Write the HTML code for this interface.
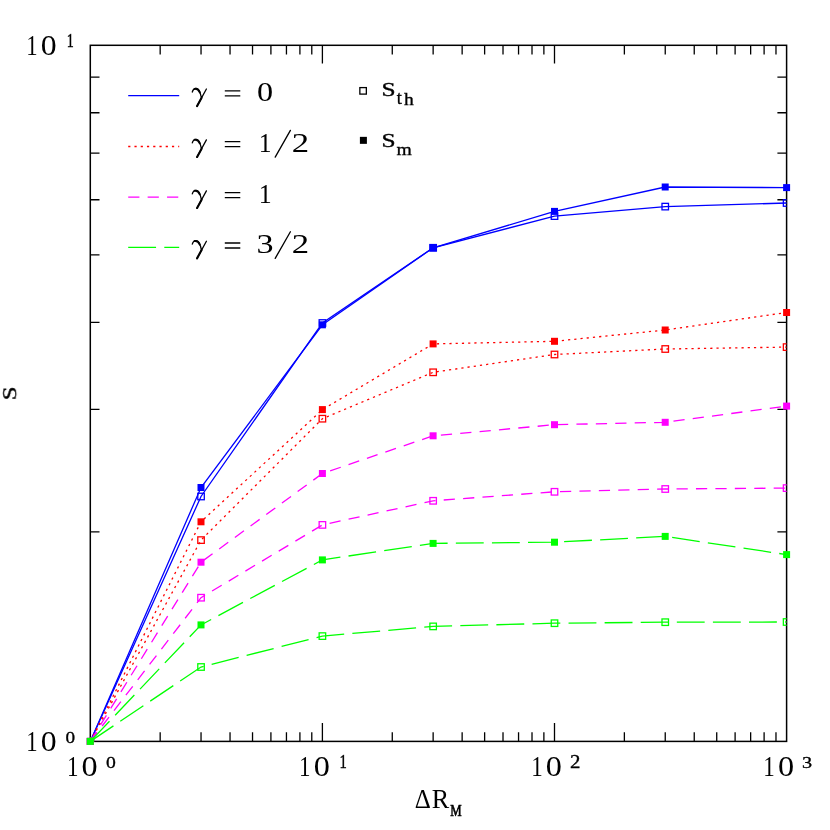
<!DOCTYPE html>
<html><head><meta charset="utf-8"><title>chart</title>
<style>html,body{margin:0;padding:0;background:#fff;}svg{display:block;}</style></head>
<body>
<svg width="830" height="830" viewBox="0 0 830 830">
<defs><filter id="ga" x="-5%" y="-5%" width="110%" height="110%"><feOffset dx="0" dy="0"/></filter></defs>
<defs><clipPath id="pc"><rect x="90.30" y="45.30" width="696.30" height="696.10"/></clipPath></defs>
<rect width="830" height="830" fill="#fff"/>
<g stroke="#000" fill="none">
<rect x="90.30" y="45.30" width="696.30" height="696.10" stroke-width="1.5"/>
<path d="M160.17 741.40v-9.20M160.17 45.30v9.20M201.04 741.40v-9.20M201.04 45.30v9.20M230.04 741.40v-9.20M230.04 45.30v9.20M252.53 741.40v-9.20M252.53 45.30v9.20M270.91 741.40v-9.20M270.91 45.30v9.20M286.45 741.40v-9.20M286.45 45.30v9.20M299.91 741.40v-9.20M299.91 45.30v9.20M311.78 741.40v-9.20M311.78 45.30v9.20M322.40 741.40v-18.30M322.40 45.30v18.30M392.27 741.40v-9.20M392.27 45.30v9.20M433.14 741.40v-9.20M433.14 45.30v9.20M462.14 741.40v-9.20M462.14 45.30v9.20M484.63 741.40v-9.20M484.63 45.30v9.20M503.01 741.40v-9.20M503.01 45.30v9.20M518.55 741.40v-9.20M518.55 45.30v9.20M532.01 741.40v-9.20M532.01 45.30v9.20M543.88 741.40v-9.20M543.88 45.30v9.20M554.50 741.40v-18.30M554.50 45.30v18.30M624.37 741.40v-9.20M624.37 45.30v9.20M665.24 741.40v-9.20M665.24 45.30v9.20M694.24 741.40v-9.20M694.24 45.30v9.20M716.73 741.40v-9.20M716.73 45.30v9.20M735.11 741.40v-9.20M735.11 45.30v9.20M750.65 741.40v-9.20M750.65 45.30v9.20M764.11 741.40v-9.20M764.11 45.30v9.20M775.98 741.40v-9.20M775.98 45.30v9.20M90.30 531.85h9.20M786.60 531.85h-9.20M90.30 409.28h9.20M786.60 409.28h-9.20M90.30 322.31h9.20M786.60 322.31h-9.20M90.30 254.85h9.20M786.60 254.85h-9.20M90.30 199.73h9.20M786.60 199.73h-9.20M90.30 153.13h9.20M786.60 153.13h-9.20M90.30 112.76h9.20M786.60 112.76h-9.20M90.30 77.15h9.20M786.60 77.15h-9.20" stroke-width="1.3"/>
</g>
<polyline points="90.3,741.4 201.0,496.5 322.4,323.0 433.1,247.8 554.5,216.1 665.2,206.6 786.6,203.0" fill="none" stroke="#0000ff" stroke-width="1.30"/>
<polyline points="90.3,741.4 201.0,487.5 322.4,324.8 433.1,247.8 554.5,211.4 665.2,187.0 786.6,187.6" fill="none" stroke="#0000ff" stroke-width="1.30"/>
<g clip-path="url(#pc)" fill="none" stroke="#0000ff" stroke-width="1.30">
<rect x="87.05" y="738.15" width="6.50" height="6.50"/>
<rect x="197.79" y="493.25" width="6.50" height="6.50"/>
<rect x="319.15" y="319.75" width="6.50" height="6.50"/>
<rect x="429.89" y="244.55" width="6.50" height="6.50"/>
<rect x="551.25" y="212.85" width="6.50" height="6.50"/>
<rect x="661.99" y="203.35" width="6.50" height="6.50"/>
<rect x="783.35" y="199.75" width="6.50" height="6.50"/>
</g>
<g fill="#0000ff">
<rect x="86.8" y="737.9" width="7" height="7"/>
<rect x="197.5" y="484.0" width="7" height="7"/>
<rect x="318.9" y="321.3" width="7" height="7"/>
<rect x="429.6" y="244.3" width="7" height="7"/>
<rect x="551.0" y="207.9" width="7" height="7"/>
<rect x="661.7" y="183.5" width="7" height="7"/>
<rect x="783.1" y="184.1" width="7" height="7"/>
</g>
<polyline points="90.3,741.4 201.0,540.1 322.4,418.7 433.1,372.3 554.5,354.5 665.2,349.0 786.6,347.1" fill="none" stroke="#ff0000" stroke-width="1.30" stroke-dasharray="2.2 4.05"/>
<polyline points="90.3,741.4 201.0,521.8 322.4,409.6 433.1,343.9 554.5,341.3 665.2,330.0 786.6,312.5" fill="none" stroke="#ff0000" stroke-width="1.30" stroke-dasharray="2.2 4.05"/>
<g clip-path="url(#pc)" fill="none" stroke="#ff0000" stroke-width="1.30">
<rect x="87.05" y="738.15" width="6.50" height="6.50"/>
<rect x="197.79" y="536.85" width="6.50" height="6.50"/>
<rect x="319.15" y="415.45" width="6.50" height="6.50"/>
<rect x="429.89" y="369.05" width="6.50" height="6.50"/>
<rect x="551.25" y="351.25" width="6.50" height="6.50"/>
<rect x="661.99" y="345.75" width="6.50" height="6.50"/>
<rect x="783.35" y="343.85" width="6.50" height="6.50"/>
</g>
<g fill="#ff0000">
<rect x="86.8" y="737.9" width="7" height="7"/>
<rect x="197.5" y="518.3" width="7" height="7"/>
<rect x="318.9" y="406.1" width="7" height="7"/>
<rect x="429.6" y="340.4" width="7" height="7"/>
<rect x="551.0" y="337.8" width="7" height="7"/>
<rect x="661.7" y="326.5" width="7" height="7"/>
<rect x="783.1" y="309.0" width="7" height="7"/>
</g>
<polyline points="90.3,741.4 201.0,597.7 322.4,524.9 433.1,500.8 554.5,491.8 665.2,489.0 786.6,488.1" fill="none" stroke="#ff00ff" stroke-width="1.30" stroke-dasharray="11.22 8.21"/>
<polyline points="90.3,741.4 201.0,562.2 322.4,473.5 433.1,435.8 554.5,424.7 665.2,422.3 786.6,406.1" fill="none" stroke="#ff00ff" stroke-width="1.30" stroke-dasharray="11.22 8.21"/>
<g clip-path="url(#pc)" fill="none" stroke="#ff00ff" stroke-width="1.30">
<rect x="87.05" y="738.15" width="6.50" height="6.50"/>
<rect x="197.79" y="594.45" width="6.50" height="6.50"/>
<rect x="319.15" y="521.65" width="6.50" height="6.50"/>
<rect x="429.89" y="497.55" width="6.50" height="6.50"/>
<rect x="551.25" y="488.55" width="6.50" height="6.50"/>
<rect x="661.99" y="485.75" width="6.50" height="6.50"/>
<rect x="783.35" y="484.85" width="6.50" height="6.50"/>
</g>
<g fill="#ff00ff">
<rect x="86.8" y="737.9" width="7" height="7"/>
<rect x="197.5" y="558.7" width="7" height="7"/>
<rect x="318.9" y="470.0" width="7" height="7"/>
<rect x="429.6" y="432.3" width="7" height="7"/>
<rect x="551.0" y="421.2" width="7" height="7"/>
<rect x="661.7" y="418.8" width="7" height="7"/>
<rect x="783.1" y="402.6" width="7" height="7"/>
</g>
<polyline points="90.3,741.4 201.0,667.0 322.4,636.1 433.1,626.4 554.5,623.2 665.2,622.2 786.6,622.0" fill="none" stroke="#00ff00" stroke-width="1.30" stroke-dasharray="27.87 8.22"/>
<polyline points="90.3,741.4 201.0,624.9 322.4,559.9 433.1,543.4 554.5,542.2 665.2,536.4 786.6,554.6" fill="none" stroke="#00ff00" stroke-width="1.30" stroke-dasharray="27.87 8.22"/>
<g clip-path="url(#pc)" fill="none" stroke="#00ff00" stroke-width="1.30">
<rect x="87.05" y="738.15" width="6.50" height="6.50"/>
<rect x="197.79" y="663.75" width="6.50" height="6.50"/>
<rect x="319.15" y="632.85" width="6.50" height="6.50"/>
<rect x="429.89" y="623.15" width="6.50" height="6.50"/>
<rect x="551.25" y="619.95" width="6.50" height="6.50"/>
<rect x="661.99" y="618.95" width="6.50" height="6.50"/>
<rect x="783.35" y="618.75" width="6.50" height="6.50"/>
</g>
<g fill="#00ff00">
<rect x="86.8" y="737.9" width="7" height="7"/>
<rect x="197.5" y="621.4" width="7" height="7"/>
<rect x="318.9" y="556.4" width="7" height="7"/>
<rect x="429.6" y="539.9" width="7" height="7"/>
<rect x="551.0" y="538.7" width="7" height="7"/>
<rect x="661.7" y="532.9" width="7" height="7"/>
<rect x="783.1" y="551.1" width="7" height="7"/>
</g>
<line x1="128.2" x2="179.2" y1="95.7" y2="95.7" stroke="#0000ff" stroke-width="1.30"/>
<line x1="128.2" x2="179.2" y1="146.5" y2="146.5" stroke="#ff0000" stroke-width="1.30" stroke-dasharray="2.2 4.05"/>
<line x1="128.2" x2="179.2" y1="197.2" y2="197.2" stroke="#ff00ff" stroke-width="1.30" stroke-dasharray="11.22 8.21"/>
<line x1="128.2" x2="179.2" y1="247.3" y2="247.3" stroke="#00ff00" stroke-width="1.30" stroke-dasharray="27.87 8.22"/>
<rect x="359.85" y="87.60" width="6.50" height="6.50" fill="none" stroke="#000" stroke-width="1.30"/>
<rect x="359.9" y="136.85" width="7" height="7" fill="#000"/>
<g filter="url(#ga)" font-family="'Liberation Serif', serif" font-size="100" fill="#000">
<text transform="matrix(0.2270 0 0 0.2909 26.21 55.30)">1</text>
<text transform="matrix(0.3176 0 0 0.2904 40.81 55.21)">0</text>
<text transform="matrix(0.1404 0 0 0.1811 66.65 47.12)" stroke="#000" stroke-width="2.18">1</text>
<text transform="matrix(0.2270 0 0 0.2879 26.21 751.40)">1</text>
<text transform="matrix(0.3176 0 0 0.2874 40.81 751.31)">0</text>
<text transform="matrix(0.1918 0 0 0.1696 65.46 742.96)" stroke="#000" stroke-width="1.94">0</text>
<text transform="matrix(0.2298 0 0 0.2879 66.99 775.90)">1</text>
<text transform="matrix(0.3224 0 0 0.2874 81.59 775.81)">0</text>
<text transform="matrix(0.1965 0 0 0.1770 105.94 767.65)" stroke="#000" stroke-width="1.87">0</text>
<text transform="matrix(0.2298 0 0 0.2879 299.09 775.90)">1</text>
<text transform="matrix(0.3224 0 0 0.2874 313.69 775.81)">0</text>
<text transform="matrix(0.1461 0 0 0.1780 339.50 767.73)" stroke="#000" stroke-width="2.16">1</text>
<text transform="matrix(0.2298 0 0 0.2879 531.19 775.90)">1</text>
<text transform="matrix(0.3224 0 0 0.2874 545.79 775.81)">0</text>
<text transform="matrix(0.2088 0 0 0.1804 569.94 767.83)" stroke="#000" stroke-width="1.80">2</text>
<text transform="matrix(0.2298 0 0 0.2879 763.29 775.90)">1</text>
<text transform="matrix(0.3224 0 0 0.2874 777.89 775.81)">0</text>
<text transform="matrix(0.2024 0 0 0.1777 802.01 767.65)" stroke="#000" stroke-width="1.84">3</text>
<text transform="matrix(0.3224 0 0 0.2830 256.99 101.02)">0</text>
<text transform="matrix(0.2553 0 0 0.2818 258.67 152.00)">1</text>
<text transform="matrix(0.3475 0 0 0.2838 291.84 152.00)">2</text>
<text transform="matrix(0.2582 0 0 0.2818 258.64 203.00)">1</text>
<text transform="matrix(0.3418 0 0 0.2825 256.48 253.22)">3</text>
<text transform="matrix(0.3475 0 0 0.2838 291.84 253.30)">2</text>
<text transform="matrix(0.2538 0 0 0.1955 381.51 96.18)" stroke="#000" stroke-width="2.00">S</text>
<text transform="matrix(0.1810 0 0 0.1983 396.69 104.43)" stroke="#000" stroke-width="1.85">t</text>
<text transform="matrix(0.1958 0 0 0.1662 403.88 104.53)" stroke="#000" stroke-width="1.93">h</text>
<text transform="matrix(0.2538 0 0 0.1941 381.51 146.78)" stroke="#000" stroke-width="2.01">S</text>
<text transform="matrix(0.1973 0 0 0.1777 396.38 154.92)" stroke="#000" stroke-width="1.87">m</text>
<text transform="matrix(0.2502 0 0 0.2742 414.86 808.20)">Δ</text>
<text transform="matrix(0.2614 0 0 0.2794 431.82 808.20)">R</text>
<text transform="matrix(0.1283 0 0 0.1626 450.19 815.83)" stroke="#000" stroke-width="3.78">M</text>
<text transform="matrix(0 -0.2480 0.1829 0 16.62 400.27)" stroke="#000" stroke-width="2.09">S</text>
</g>
<g stroke="#000" fill="none" stroke-width="1.45" stroke-linecap="round" stroke-linejoin="round">
<path d="M192.3,92.0 C193.0,89.4 194.6,88.4 196.3,88.5 C198.9,88.9 200.4,92.6 201.4,97.6 M206.4,89.0 L196.9,106.4" stroke-width="1.3"/>
<path d="M194.6,88.9 C196.6,88.5 198.6,89.6 199.8,92.4" stroke-width="2.0"/>
<path d="M201.6,97.8 L197.1,106.1" stroke-width="2.1"/>
<path d="M224.8,90.8H240.3M224.8,95.8H240.3" stroke-width="1.3" stroke-linecap="butt"/>
<path d="M192.3,142.9 C193.0,140.3 194.6,139.3 196.3,139.4 C198.9,139.8 200.4,143.5 201.4,148.5 M206.4,139.9 L196.9,157.3" stroke-width="1.3"/>
<path d="M194.6,139.8 C196.6,139.4 198.6,140.5 199.8,143.3" stroke-width="2.0"/>
<path d="M201.6,148.7 L197.1,157.0" stroke-width="2.1"/>
<path d="M224.8,141.7H240.3M224.8,146.7H240.3" stroke-width="1.3" stroke-linecap="butt"/>
<path d="M290.4,130.4L275.2,157.1" stroke-width="1.3"/>
<path d="M192.3,193.9 C193.0,191.3 194.6,190.3 196.3,190.4 C198.9,190.8 200.4,194.5 201.4,199.5 M206.4,190.9 L196.9,208.3" stroke-width="1.3"/>
<path d="M194.6,190.8 C196.6,190.4 198.6,191.5 199.8,194.3" stroke-width="2.0"/>
<path d="M201.6,199.7 L197.1,208.0" stroke-width="2.1"/>
<path d="M224.8,192.7H240.3M224.8,197.7H240.3" stroke-width="1.3" stroke-linecap="butt"/>
<path d="M192.3,244.2 C193.0,241.6 194.6,240.6 196.3,240.7 C198.9,241.1 200.4,244.8 201.4,249.8 M206.4,241.2 L196.9,258.6" stroke-width="1.3"/>
<path d="M194.6,241.1 C196.6,240.7 198.6,241.8 199.8,244.6" stroke-width="2.0"/>
<path d="M201.6,250.0 L197.1,258.3" stroke-width="2.1"/>
<path d="M224.8,243.0H240.3M224.8,248.0H240.3" stroke-width="1.3" stroke-linecap="butt"/>
<path d="M290.4,231.7L275.2,258.4" stroke-width="1.3"/>
</g>
</svg>
</body></html>
